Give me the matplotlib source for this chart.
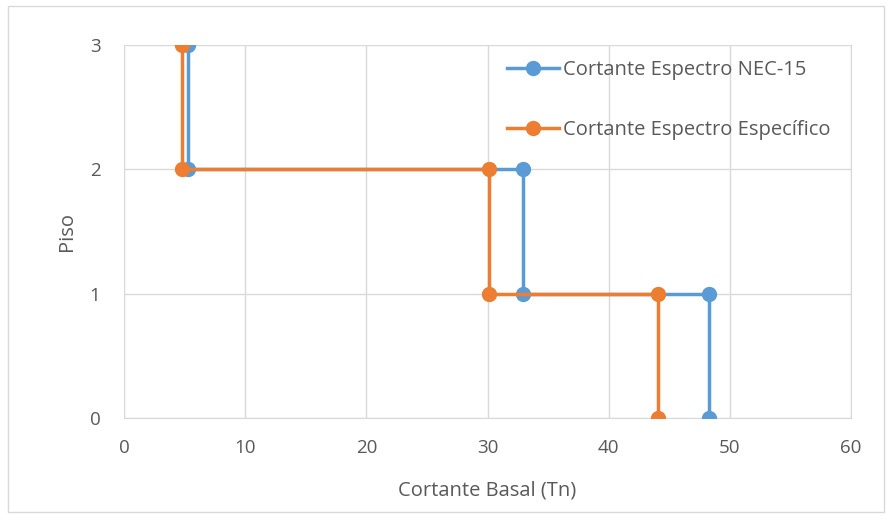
import matplotlib.pyplot as plt
from matplotlib.patches import Rectangle

# cortante por piso (Tn)
piso = [3, 2, 2, 1, 1, 0]
cortante_nec = [5.3, 5.3, 32.9, 32.9, 48.3, 48.3]
cortante_esp = [4.8, 4.8, 30.1, 30.1, 44.1, 44.1]

plt.rcParams['font.family'] = ['Open Sans', 'DejaVu Sans']

fig = plt.figure(figsize=(8.88, 5.16), dpi=100)
ax = fig.add_axes([124/888, 1 - 418/516, (851 - 124)/888, (418 - 45)/516])

# marco exterior
fig.patches.append(Rectangle((8/888, 4/516), 876/888, 506/516, transform=fig.transFigure,
                             fill=False, edgecolor='#d9d9d9', linewidth=1))

ax.plot(cortante_nec, piso, color='#5b9bd5', linewidth=2.5, marker='o', markersize=10,
        label='Cortante Espectro NEC-15', zorder=3)
ax.plot(cortante_esp, piso, color='#ed7d31', linewidth=2.5, marker='o', markersize=10,
        label='Cortante Espectro Específico', zorder=4)

ax.set_xlim(0, 60)
ax.set_ylim(0, 3)
ax.set_xticks(range(0, 61, 10))
ax.set_yticks([0, 1, 2, 3])
ax.grid(True, color='#d9d9d9', linewidth=1)
ax.set_axisbelow(True)
for s in ['top', 'left']:
    ax.spines[s].set_visible(False)
ax.spines['right'].set_color('#d9d9d9')
ax.spines['bottom'].set_color('#d9d9d9')
ax.tick_params(axis='x', length=0, labelsize=13.5, labelcolor='#595959', pad=15)
ax.tick_params(axis='y', length=0, labelsize=13.5, labelcolor='#595959', pad=17)
for lbl in ax.get_xticklabels() + ax.get_yticklabels():
    lbl.set_clip_on(False)

ax.set_xlabel('Cortante Basal (Tn)', fontsize=14.5, color='#595959', labelpad=17)
ax.set_ylabel('Piso', fontsize=14.5, color='#595959', labelpad=9)

leg = ax.legend(loc='upper left', bbox_to_anchor=(0.502, 1.009), frameon=False,
                fontsize=14.5, labelcolor='#595959', labelspacing=2.0,
                handlelength=2.6, handletextpad=0.2)

plt.savefig('out.png', dpi=100)
